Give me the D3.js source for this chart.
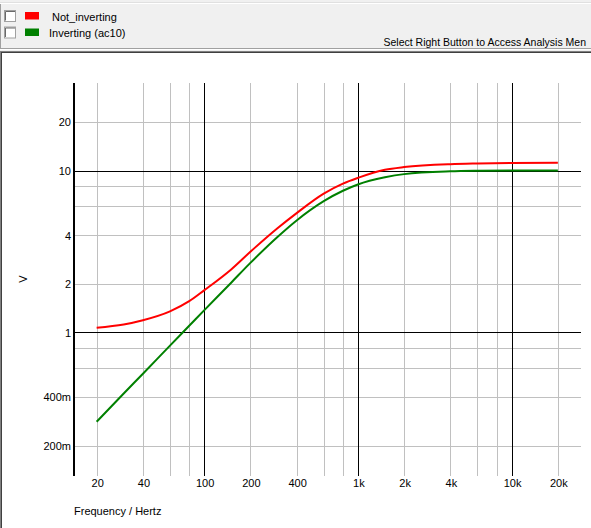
<!DOCTYPE html>
<html>
<head>
<meta charset="utf-8">
<script src="https://cdn.jsdelivr.net/npm/d3@7"></script>
<style>
  html, body { margin: 0; padding: 0; background: #ffffff; }
  svg { display: block; font-family: "Liberation Sans", Arial, sans-serif; font-size: 11px; }
</style>
</head>
<body>
<script>
// ---- data ----
const freqs = [20, 30, 40, 60, 80, 100, 150, 200, 300, 400, 600, 800, 1000, 1500, 2000, 4000, 6000, 10000, 20000];
const notInverting = [1.07, 1.12, 1.19, 1.35, 1.56, 1.82, 2.45, 3.15, 4.4, 5.46, 7.2, 8.3, 9.0, 10.1, 10.5, 10.95, 11.05, 11.12, 11.15];
const inverting = [0.281, 0.42, 0.556, 0.83, 1.1, 1.37, 2.03, 2.69, 3.89, 4.92, 6.47, 7.5, 8.2, 9.08, 9.5, 9.88, 9.96, 10.0, 10.0];

const seriesNames = ["Not_inverting", "Inverting (ac10)"];
const seriesColors = ["#ff0000", "#008000"];

const xTicks = [20, 40, 100, 200, 400, 1000, 2000, 4000, 10000, 20000];
const xTickLabels = ["20", "40", "100", "200", "400", "1k", "2k", "4k", "10k", "20k"];
const yTicks = [0.2, 0.4, 1, 2, 4, 10, 20];
const yTickLabels = ["200m", "400m", "1", "2", "4", "10", "20"];

const xMinorGrid = [20, 40, 60, 80, 200, 400, 600, 800, 2000, 4000, 6000, 8000, 20000];
const xMajorGrid = [100, 1000, 10000];
const yMinorGrid = [0.2, 0.4, 0.6, 0.8, 2, 4, 6, 8, 20];
const yMajorGrid = [1, 10];

const xDomain = [14.142, 28284];
const yDomain = [0.13, 34.7];

// ---- layout ----
const W = 591, H = 528;
const plot = { left: 73.5, right: 581, top: 83, bottom: 476 };

const svg = d3.select("body").append("svg").attr("width", W).attr("height", H);

// top panel
svg.append("rect").attr("x", 0).attr("y", 0).attr("width", W).attr("height", 49).attr("fill", "#f0f0f0");
svg.append("line").attr("x1", 0).attr("x2", W).attr("y1", 3.5).attr("y2", 3.5).attr("stroke", "#ffffff");
svg.append("line").attr("x1", 0).attr("x2", W).attr("y1", 2.5).attr("y2", 2.5).attr("stroke", "#e0e0e0");
svg.append("line").attr("x1", 0.5).attr("x2", 0.5).attr("y1", 4).attr("y2", 48).attr("stroke", "#a0a0a0");
svg.append("line").attr("x1", 0).attr("x2", W).attr("y1", 48.5).attr("y2", 48.5).attr("stroke", "#a0a0a0");
svg.append("line").attr("x1", 0).attr("x2", W).attr("y1", 49.5).attr("y2", 49.5).attr("stroke", "#ffffff");
svg.append("rect").attr("x", 0).attr("y", 50).attr("width", W).attr("height", 1).attr("fill", "#f0f0f0");
// plot window border
svg.append("line").attr("x1", 0).attr("x2", W).attr("y1", 51.5).attr("y2", 51.5).attr("stroke", "#808080");
svg.append("line").attr("x1", 0.5).attr("x2", 0.5).attr("y1", 51).attr("y2", H).attr("stroke", "#808080");
svg.append("line").attr("x1", 1).attr("x2", W).attr("y1", 52.5).attr("y2", 52.5).attr("stroke", "#404040");
svg.append("line").attr("x1", 1.5).attr("x2", 1.5).attr("y1", 52).attr("y2", H).attr("stroke", "#404040");

// legend
const legend = svg.append("g");
seriesNames.forEach((name, i) => {
  const cy = 16.5 + i * 16.5;
  legend.append("rect").attr("x", 4.5).attr("y", cy - 6).attr("width", 11).attr("height", 11)
    .attr("fill", "#ffffff").attr("stroke", "#a0a0a0");
  legend.append("path").attr("d", `M5.5,${cy + 4}V${cy - 5}H15`).attr("fill", "none").attr("stroke", "#696969");
  legend.append("rect").attr("x", 25).attr("y", cy - 4.5).attr("width", 14).attr("height", 7.5).attr("fill", seriesColors[i]);
  legend.append("text").attr("x", i === 0 ? 52 : 49).attr("y", cy + 4).attr("fill", "#000").text(name);
});
// status text (clipped at the window edge in the reference)
svg.append("text").attr("x", 383.5).attr("y", 45.5).attr("fill", "#000")
  .style("font-size", "10.5px")
  .text("Select Right Button to Access Analysis Men");

// scales
const x = d3.scaleLog().domain(xDomain).range([plot.left, plot.right]);
const y = d3.scaleLog().domain(yDomain).range([plot.bottom, plot.top]);
const px = v => Math.round(x(v)) + 0.5;
const py = v => Math.round(y(v)) + 0.5;

const grid = svg.append("g").attr("shape-rendering", "crispEdges");
grid.selectAll("line.vmin").data(xMinorGrid).join("line")
  .attr("x1", px).attr("x2", px).attr("y1", plot.top).attr("y2", plot.bottom).attr("stroke", "#c0c0c0");
grid.selectAll("line.hmin").data(yMinorGrid).join("line")
  .attr("x1", plot.left).attr("x2", plot.right).attr("y1", py).attr("y2", py).attr("stroke", "#c0c0c0");
grid.selectAll("line.vmaj").data(xMajorGrid).join("line")
  .attr("x1", px).attr("x2", px).attr("y1", plot.top).attr("y2", plot.bottom).attr("stroke", "#000000");
grid.selectAll("line.hmaj").data(yMajorGrid).join("line")
  .attr("x1", plot.left).attr("x2", plot.right).attr("y1", py).attr("y2", py).attr("stroke", "#000000");

// y axis line (thick)
svg.append("line").attr("x1", 74).attr("x2", 74).attr("y1", plot.top).attr("y2", plot.bottom)
  .attr("stroke", "#000").attr("stroke-width", 2).attr("shape-rendering", "crispEdges");

// axes (labels only)
const xAxis = d3.axisBottom(x).tickValues(xTicks).tickSize(0).tickPadding(0)
  .tickFormat((d, i) => xTickLabels[i]);
const gx = svg.append("g").attr("transform", `translate(0.5,${plot.bottom})`).call(xAxis);
gx.select(".domain").remove();
gx.selectAll("text").attr("dy", "11px").attr("fill", "#000")
  .style("font-family", '"Liberation Sans", Arial, sans-serif').style("font-size", "11px");

const yAxis = d3.axisLeft(y).tickValues(yTicks).tickSize(0).tickPadding(0)
  .tickFormat((d, i) => yTickLabels[i]);
const gy = svg.append("g").attr("transform", `translate(71,0.5)`).call(yAxis);
gy.select(".domain").remove();
gy.selectAll("text").attr("fill", "#000")
  .style("font-family", '"Liberation Sans", Arial, sans-serif').style("font-size", "11px");

// axis titles
svg.append("text").attr("x", 74).attr("y", 515).attr("fill", "#000").text("Frequency / Hertz");
svg.append("text").attr("transform", "translate(27,279) rotate(-90)").attr("text-anchor", "middle")
  .attr("fill", "#000").text("V");

// curves
const line = d3.line().x(d => x(d[0])).y(d => y(d[1])).curve(d3.curveMonotoneX);
[notInverting, inverting].forEach((vals, i) => {
  svg.append("path").datum(freqs.map((f, j) => [f, vals[j]]))
    .attr("d", line).attr("fill", "none").attr("stroke", seriesColors[i]).attr("stroke-width", 2);
});
</script>
</body>
</html>
